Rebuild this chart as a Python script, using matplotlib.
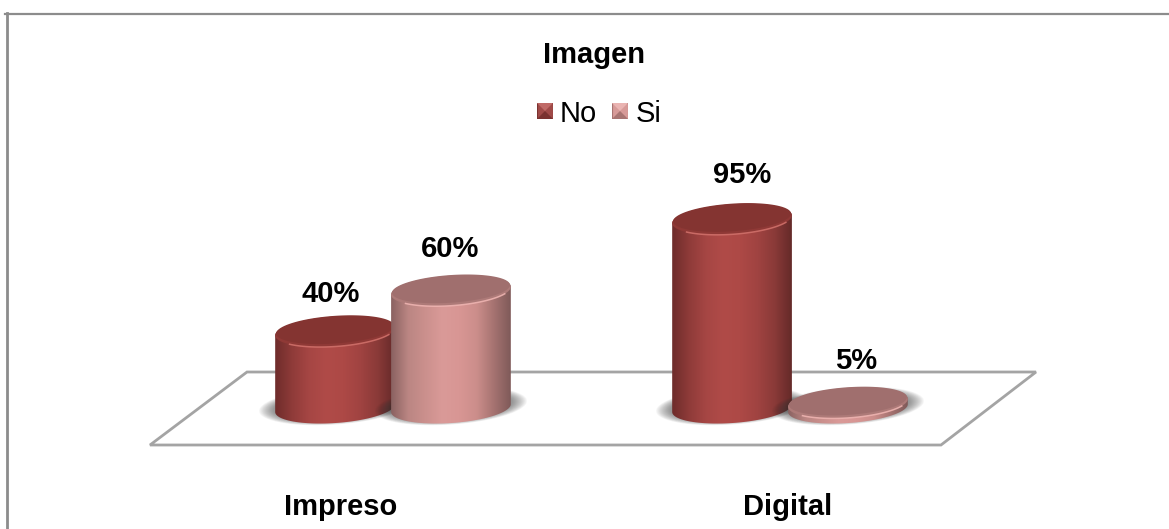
import numpy as np
import matplotlib
matplotlib.use('Agg')
import matplotlib.pyplot as plt
from matplotlib.colors import LinearSegmentedColormap
from matplotlib.patches import Polygon

plt.rcParams['font.family'] = ['Liberation Sans', 'DejaVu Sans']

categories = ['Impreso', 'Digital']
series = ['No', 'Si']
no_values = [40, 95]
si_values = [60, 5]

W, H = 1169, 529
PX_PER_PCT = 2.04   # vertical pixels per percentage point
PX_PER_CAT = 397    # horizontal pixels between categories
BASE = 2.5          # value sitting on the floor of the chart
CENTER = 393        # pixel column of the first category
OFFSET = 0.146      # bar offset from category centre
RX, RY, TILT = 60, 15, np.radians(4)  # top ellipse, in pixels

dark_cmap = LinearSegmentedColormap.from_list(
    'no', ['#6e2c2b', '#8f3b39', '#a64644', '#b04b48', '#ad4946', '#a04341', '#8a3a38', '#652a29'])
light_cmap = LinearSegmentedColormap.from_list(
    'si', ['#8a6261', '#bb8683', '#cb908d', '#da9a98', '#d89694', '#cc8e8b', '#a67371', '#7f5a59'])
dark_top, dark_bevel, dark_rim = '#843431', '#8f3936', '#d0706a'
light_top, light_bevel, light_rim = '#a06f6e', '#ad7a78', '#eeb4b1'

fig = plt.figure(figsize=(W / 100, H / 100), dpi=100)
ax = fig.add_axes([0, 0, 1, 1])
# data coordinates: x in category units, y in percent
ax.set_xlim(-CENTER / PX_PER_CAT, (W - CENTER) / PX_PER_CAT)
ax.set_ylim(BASE - (H - 408) / PX_PER_PCT, BASE + 408 / PX_PER_PCT)
ax.axis('off')


def px_to_data(px, py):
    inv = ax.transData.inverted()
    return inv.transform(np.column_stack([px, H - np.asarray(py)]))


def ellipse(x, y, sx=1.0, sy=1.0, t=None):
    """Tilted ellipse outline around a data point, sizes given in pixels."""
    if t is None:
        t = np.linspace(0, 2 * np.pi, 160)
    ex = RX * sx * np.cos(t)
    ey = RY * sy * np.sin(t)
    dx = (ex * np.cos(TILT) + ey * np.sin(TILT)) / PX_PER_CAT
    dy = (ex * np.sin(TILT) - ey * np.cos(TILT)) / PX_PER_PCT
    return np.column_stack([x + dx, y + dy])


def draw_cylinder(x, value, cmap, top_color, bevel_color, rim_color, z):
    # soft shadow on the floor
    for k in np.linspace(0, 1, 16):
        shadow = ellipse(x, BASE + 1.0, 1.27 - 0.24 * k, 1.24 - 0.26 * k)
        ax.add_patch(Polygon(shadow, closed=True, fc='#303030', ec='none', alpha=0.04, zorder=z))

    # body: hull of the two ellipses (t in 0..pi is the lower half on screen)
    lower = ellipse(x, BASE, t=np.linspace(0, np.pi, 80))
    upper = ellipse(x, value, t=np.linspace(np.pi, 2 * np.pi, 80))
    body = Polygon(np.vstack([lower, upper]), closed=True, fc='none', ec='none', zorder=z + 0.1)
    ax.add_patch(body)
    half = RX / PX_PER_CAT
    img = ax.imshow(np.linspace(0, 1, 256).reshape(1, -1), cmap=cmap, aspect='auto',
                    extent=[x - half, x + half, BASE - 20, value + 20], zorder=z + 0.2)
    img.set_clip_path(body)

    # bevelled lid: dark flat top, softer band and a bright line along the lower edge
    ax.add_patch(Polygon(ellipse(x, value), closed=True, fc=bevel_color, ec='none', zorder=z + 0.3))
    ax.add_patch(Polygon(ellipse(x, value + 0.9, 0.985, 0.92), closed=True, fc=top_color, ec='none', zorder=z + 0.4))
    arc = ellipse(x, value, t=np.linspace(np.pi * 0.15, np.pi * 0.78, 40))
    ax.plot(arc[:, 0], arc[:, 1], color=rim_color, lw=1.1, alpha=0.9, zorder=z + 0.5)


# floor of the chart
floor = px_to_data([247, 1036, 941, 150], [372, 372, 445, 445])
ax.add_patch(Polygon(floor, closed=True, fc='white', ec='#a4a4a4', lw=2, zorder=1))

z = 2
for i, cat in enumerate(categories):
    draw_cylinder(i - OFFSET, no_values[i], dark_cmap, dark_top, dark_bevel, dark_rim, z)
    draw_cylinder(i + OFFSET, si_values[i], light_cmap, light_top, light_bevel, light_rim, z + 1)
    z += 2

# value labels, placed by hand above each bar
no_label_shift = [(-3, 17), (7, 22)]
si_label_shift = [(-1, 20), (6, 20)]
for i in range(len(categories)):
    ax.annotate(f'{no_values[i]}%', (i - OFFSET, no_values[i]), xytext=no_label_shift[i],
                textcoords='offset points', ha='center', va='bottom',
                fontsize=21, fontweight='bold', zorder=10)
    ax.annotate(f'{si_values[i]}%', (i + OFFSET, si_values[i]), xytext=si_label_shift[i],
                textcoords='offset points', ha='center', va='bottom',
                fontsize=21, fontweight='bold', zorder=10)

# category labels
for i, cat in enumerate(categories):
    x_lab = [341, 788][i]
    fig.text(x_lab / W, 1 - 507 / H, cat, ha='center', va='center', fontsize=21, fontweight='bold')

fig.text(594 / W, 1 - 55 / H, 'Imagen', ha='center', va='center', fontsize=21, fontweight='bold')

# legend with small bevelled squares
legend = [(537, 560, series[0], '#a04a48', '#7a3230', '#c06a67'),
          (612, 636, series[1], '#d79a98', '#a87472', '#eab4b2')]
for x0, tx, name, mid, edge, light in legend:
    y0 = 103
    sq = fig.add_axes([x0 / W, 1 - (y0 + 16) / H, 16 / W, 16 / H])
    sq.set_xlim(0, 1)
    sq.set_ylim(0, 1)
    sq.axis('off')
    sq.add_patch(Polygon([(0, 0), (1, 0), (1, 1), (0, 1)], fc=mid, ec=edge, lw=0.8))
    sq.add_patch(Polygon([(0, 1), (1, 1), (0.5, 0.5)], fc=light, ec='none'))
    sq.add_patch(Polygon([(0, 0), (1, 0), (0.5, 0.5)], fc=edge, ec='none'))
    fig.text(tx / W, 1 - 114 / H, name, ha='left', va='center', fontsize=21)

# chart frame, only partly inside the picture
fig.add_artist(plt.Line2D([6.5 / W, 6.5 / W], [0, 1 - 13 / H], color='#8c8c8c', lw=2))
fig.add_artist(plt.Line2D([5 / W, 1], [1 - 14 / H, 1 - 14 / H], color='#8c8c8c', lw=1.6))

fig.savefig('out.png', dpi=100)
